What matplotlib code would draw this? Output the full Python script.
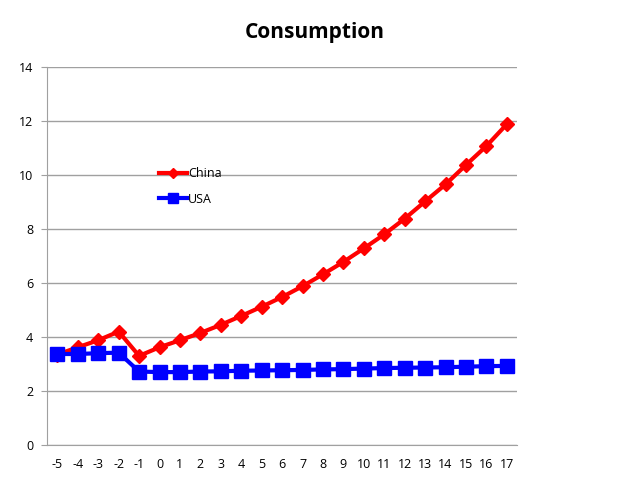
import matplotlib.pyplot as plt

years = list(range(-5, 18))
china = [3.35, 3.62, 3.88, 4.2, 3.3, 3.62, 3.88, 4.15, 4.45, 4.78, 5.12, 5.48,
         5.88, 6.32, 6.78, 7.28, 7.8, 8.38, 9.02, 9.65, 10.37, 11.07, 11.88]
usa = [3.37, 3.37, 3.4, 3.42, 2.72, 2.7, 2.7, 2.72, 2.73, 2.75, 2.76, 2.77,
       2.78, 2.8, 2.81, 2.83, 2.85, 2.86, 2.87, 2.88, 2.9, 2.92, 2.93]
y_ticks = [0, 2, 4, 6, 8, 10, 12, 14]

plt.rcParams['font.family'] = ['Open Sans', 'DejaVu Sans']
plt.rcParams['axes.unicode_minus'] = False

fig = plt.figure(figsize=(6.29, 4.78), dpi=100)
ax = fig.add_axes([0.075, 0.069, 0.747, 0.791])

ax.plot(years, china, color='#ff0000', lw=3, marker='D', ms=7,
        label='China', zorder=3)
ax.plot(years, usa, color='#0000ff', lw=3, marker='s', ms=9.5,
        label='USA', zorder=3)

ax.set_xlim(-5.5, 17.5)
ax.set_ylim(0, 14)
ax.set_xticks(years)
ax.set_yticks(y_ticks)
ax.tick_params(axis='x', length=0, labelsize=9, pad=9)
ax.tick_params(axis='y', length=4, color='#a0a0a0', labelsize=9, pad=6)
ax.grid(axis='y', color='#a0a0a0', lw=1)
ax.set_axisbelow(True)
for s in ['top', 'right']:
    ax.spines[s].set_visible(False)
ax.spines['left'].set_color('#a0a0a0')
ax.spines['bottom'].set_color('#a0a0a0')

fig.suptitle('Consumption', x=0.5, y=0.955, fontsize=15, fontweight='bold')

ax.legend(loc='upper left', bbox_to_anchor=(0.215, 0.765), frameon=False,
          fontsize=9, handlelength=2.2, handletextpad=0.1, labelspacing=1.0,
          markerscale=0.8)

plt.savefig('out.png', dpi=100)
